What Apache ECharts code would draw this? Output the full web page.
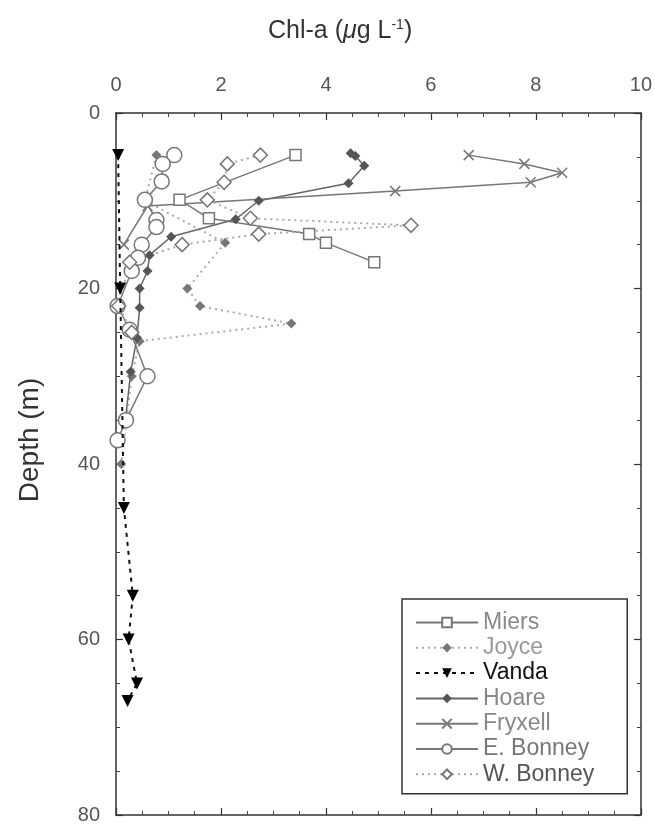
<!DOCTYPE html>
<html>
<head>
<meta charset="utf-8">
<script src="https://cdn.jsdelivr.net/npm/echarts@6/dist/echarts.min.js"></script>
<style>html,body{margin:0;padding:0;background:#fff}#c{width:655px;height:825px}</style>
</head>
<body>
<div id="c"></div>
<script>
// Chl-a (ug/L), depth (m) pairs
const xTicks = [0, 2, 4, 6, 8, 10];
const yTicks = [0, 20, 40, 60, 80];
const miers = [[3.42,4.8],[1.21,9.9],[1.77,12.0],[3.68,13.8],[4.0,14.8],[4.92,17.0]];
const joyce = [[0.77,4.8],[0.55,10],[2.08,14.8],[1.36,20],[1.6,22],[3.34,24],[0.45,26],[0.3,30],[0.1,40]];
const vanda = [[0.04,4.8],[0.08,20],[0.15,45],[0.32,55],[0.24,60],[0.4,65],[0.22,67]];
const hoare = [[4.47,4.6],[4.56,4.9],[4.73,6.0],[4.43,8.0],[2.72,10],[2.28,12.1],[1.05,14.1],[0.64,16.2],[0.6,18],[0.45,20],[0.45,22.2],[0.4,25.6],[0.28,29.5],[0.18,35]];
const fryxell = [[6.72,4.8],[7.78,5.8],[8.5,6.8],[7.9,7.9],[5.32,8.9],[0.6,10.6],[0.15,15]];
const eBonney = [[1.11,4.8],[0.89,5.8],[0.87,7.8],[0.55,9.9],[0.77,12.2],[0.77,13],[0.49,15],[0.42,16.5],[0.3,18],[0.03,22],[0.26,24.7],[0.6,30],[0.19,35],[0.03,37.3]];
const wBonney = [[2.75,4.8],[2.12,5.8],[2.06,7.9],[1.74,9.9],[2.56,12],[5.62,12.8],[2.72,13.8],[1.26,15],[0.26,17],[0.05,22],[0.3,25]];

const chart = echarts.init(document.getElementById('c'));
const FONT = '"Liberation Sans", Arial, sans-serif';
const axisCommon = {
  type: 'value',
  axisLine: {show: true, onZero: false, lineStyle: {color: '#333', width: 1.5}},
  axisTick: {show: true, inside: true, length: 7, lineStyle: {color: '#333', width: 1.2}},
  minorTick: {show: true, splitNumber: 4, length: 4, lineStyle: {color: '#444', width: 1}},
  splitLine: {show: false}
};
function S(name, data, o) {
  return Object.assign({
    name, type: 'line', data, xAxisIndex: 0, yAxisIndex: 0,
    showAllSymbol: true, animation: false
  }, o);
}
const option = {
  animation: false,
  backgroundColor: '#fff',
  grid: {left: 116, right: 9, top: 113, bottom: 10},
  xAxis: [
    Object.assign({}, axisCommon, {position: 'top', min: 0, max: 10, interval: 2,
      axisLabel: {show: true, fontSize: 20, color: '#555', margin: 18, fontFamily: FONT,
        formatter: v => xTicks.includes(v) ? String(v) : ''}}),
    Object.assign({}, axisCommon, {position: 'bottom', min: 0, max: 10, interval: 2, axisLabel: {show: false}})
  ],
  yAxis: [
    Object.assign({}, axisCommon, {position: 'left', inverse: true, min: 0, max: 80, interval: 20,
      axisLabel: {show: true, fontSize: 20, color: '#555', margin: 16, fontFamily: FONT,
        formatter: v => yTicks.includes(v) ? String(v) : ''}}),
    Object.assign({}, axisCommon, {position: 'right', inverse: true, min: 0, max: 80, interval: 20, axisLabel: {show: false}})
  ],
  legend: {
    orient: 'vertical', left: 402, top: 599,
    backgroundColor: '#fff', borderColor: '#333', borderWidth: 1.5,
    padding: [12, 33, 8, 13],
    itemWidth: 62, itemHeight: 12, itemGap: 2.3,
    textStyle: {fontSize: 23, lineHeight: 23, fontFamily: FONT},
    data: [
      {name: 'Miers', textStyle: {color: '#888'}},
      {name: 'Joyce', textStyle: {color: '#999'}},
      {name: 'Vanda', textStyle: {color: '#111'}},
      {name: 'Hoare', textStyle: {color: '#888'}},
      {name: 'Fryxell', textStyle: {color: '#888'}},
      {name: 'E. Bonney', textStyle: {color: '#777'}},
      {name: 'W. Bonney', textStyle: {color: '#555'}}
    ]
  },
  graphic: [
    {type: 'text', left: 268, top: 18, style: {
      text: '{a|Chl-a (}{mu|μ}{a|g L}{sup|-1}{a|)}',
      rich: {
        a: {fontSize: 25, fontFamily: FONT, fill: '#333', verticalAlign: 'bottom'},
        mu: {fontSize: 25, fontFamily: FONT, fontStyle: 'italic', fill: '#333', verticalAlign: 'bottom'},
        sup: {fontSize: 14, fontFamily: FONT, fill: '#333', verticalAlign: 'top', padding: [0,0,12,0]}
      }
    }},
    {type: 'text', x: 30, y: 440, rotation: Math.PI / 2, style: {
      text: 'Depth (m)', fontSize: 28, fontFamily: FONT, fill: '#333',
      textAlign: 'center', textVerticalAlign: 'middle'
    }}
  ],
  series: [
    S('Miers', miers, {symbol: 'rect', symbolSize: 11,
      lineStyle: {color: '#777', width: 1.5},
      itemStyle: {color: '#fff', borderColor: '#777', borderWidth: 1.5}, z: 3}),
    S('Joyce', joyce, {symbol: 'diamond', symbolSize: 10,
      lineStyle: {color: '#aaa', width: 2, type: [2, 4]},
      itemStyle: {color: '#777', borderColor: '#777', borderWidth: 0}, z: 2}),
    S('Vanda', vanda, {symbol: 'triangle', symbolRotate: 180, symbolSize: 12,
      lineStyle: {color: '#111', width: 2, type: [4, 5]},
      itemStyle: {color: '#000', borderColor: '#000', borderWidth: 0}, z: 4}),
    S('Hoare', hoare, {symbol: 'diamond', symbolSize: 10,
      lineStyle: {color: '#666', width: 1.5},
      itemStyle: {color: '#555', borderColor: '#555', borderWidth: 0}, z: 3}),
    S('Fryxell', fryxell, {symbol: 'path://M0,0L10,10M10,0L0,10', symbolSize: 10,
      lineStyle: {color: '#777', width: 1.5},
      itemStyle: {color: 'none', borderColor: '#777', borderWidth: 1.5}, z: 3}),
    S('E. Bonney', eBonney, {symbol: 'circle', symbolSize: 15,
      lineStyle: {color: '#777', width: 1.5},
      itemStyle: {color: '#fff', borderColor: '#777', borderWidth: 1.5}, z: 3}),
    S('W. Bonney', wBonney, {symbol: 'diamond', symbolSize: 14,
      lineStyle: {color: '#aaa', width: 2, type: [2, 4]},
      itemStyle: {color: '#fff', borderColor: '#777', borderWidth: 1.5}, z: 3})
  ]
};
chart.setOption(option);
</script>
</body>
</html>
